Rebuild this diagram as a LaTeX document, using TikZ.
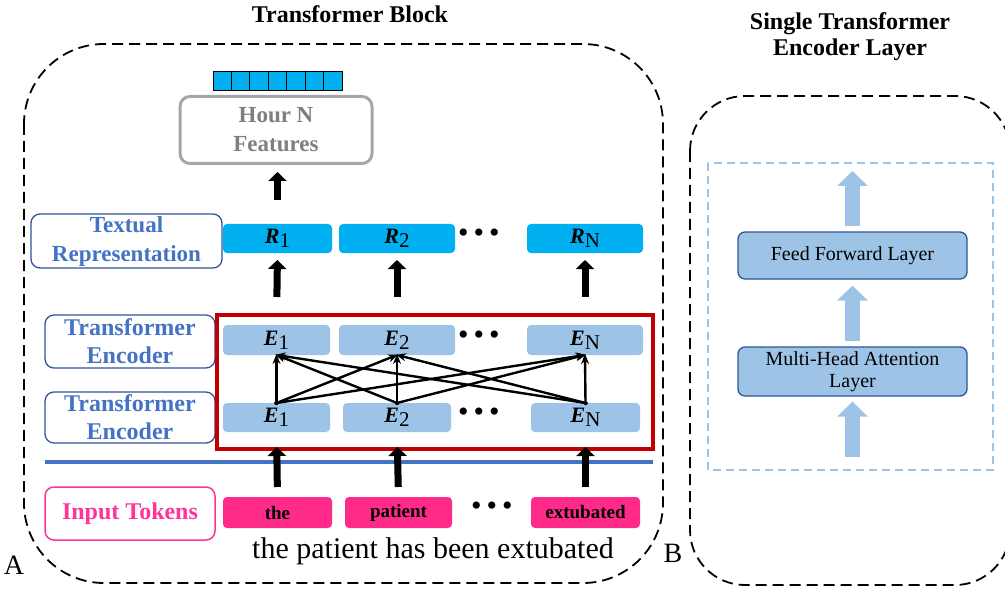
\documentclass[tikz,border=0pt]{standalone}
\usepackage{fontspec}
\setmainfont{Liberation Serif}
\usetikzlibrary{arrows.meta,calc}
\definecolor{cyanR}{HTML}{00B0F0}
\definecolor{lblue}{HTML}{9DC3E6}
\definecolor{dblue}{HTML}{2F5597}
\definecolor{mblue}{HTML}{4472C4}
\definecolor{redC}{HTML}{C00000}
\definecolor{pinkC}{HTML}{FF2A8A}
\definecolor{pinkT}{HTML}{FF3399}
\definecolor{grayB}{HTML}{A6A6A6}
\definecolor{grayT}{HTML}{7F7F7F}
\newcommand\subl[2]{\textbf{\textit{#1}}\raisebox{-0.4ex}{\fontsize{21}{21}\selectfont #2}}
\begin{document}
\begin{tikzpicture}[x=1pt,y=-1pt,
  box/.style={rectangle, rounded corners=4pt, inner sep=0pt, outer sep=0pt, align=center},
  rbox/.style={box, fill=cyanR, minimum height=29pt, font=\fontsize{22}{22}\selectfont},
  ebox/.style={box, fill=lblue, minimum height=30pt, font=\fontsize{22}{22}\selectfont},
  tbox/.style={box, fill=pinkC, minimum height=31pt, font=\fontsize{19}{19}\selectfont\bfseries},
  lbl/.style={rectangle, rounded corners=9pt, draw=dblue, line width=1.3pt, text=mblue,
    font=\fontsize{24}{28}\selectfont\bfseries, align=center, inner sep=0pt, minimum width=170pt},
  bigarrow/.style={line width=7pt, -{Triangle[width=18pt,length=9pt]}},
  barrow/.style={line width=15pt, lblue, -{Triangle[width=30pt,length=15pt]}},
  xarrow/.style={line width=2.4pt, -{Stealth[length=10pt,width=8pt]}},
  dots/.style={font=\fontsize{30}{30}\selectfont, inner sep=0pt},
  frame/.style={line width=1.8pt, dash pattern=on 11pt off 6pt},
  cell/.style={rectangle, draw=black, line width=0.9pt, fill=cyanR, minimum width=18.43pt, minimum height=19pt, inner sep=0pt, outer sep=0pt}
]
\useasboundingbox (0,0) rectangle (1005,591);

% titles
\node[font=\fontsize{24}{26}\selectfont\bfseries] (title) at (350,14) {Transformer Block};
\node[font=\fontsize{24}{26}\selectfont\bfseries, align=center] (titleB) at (850,37) {Single Transformer\\Encoder Layer};

% frames
\draw[frame, rounded corners=80pt] (24,44) rectangle (663,583);
\draw[frame, rounded corners=55pt] (690,96) rectangle (1010,585);
\draw[lblue, line width=2pt, dash pattern=on 8pt off 5pt] (708,163) rectangle (993,470);

\node[font=\fontsize{28}{28}\selectfont] (A) at (14,565) {A};
\node[font=\fontsize{28}{28}\selectfont] (B) at (673,553) {B};

% output vector
\foreach \i in {1,...,7} {
  \node[cell] (c\i) at ({213+18.43*(\i-0.5)},80.5) {};
}
\node[rectangle, rounded corners=10pt, draw=grayB, line width=3pt, text=grayT,
  font=\fontsize{23}{29}\selectfont\bfseries, align=center, minimum width=192pt, minimum height=67pt, inner sep=0pt]
  (hour) at (276,130) {Hour N\\Features};

% left labels
\node[lbl, minimum width=191pt, minimum height=54pt, font=\fontsize{23}{29}\selectfont\bfseries] (textual) at (126.5,241) {Textual\\Representation};
\node[lbl, minimum height=53pt] (enc1) at (130,341.5) {Transformer\\Encoder};
\node[lbl, minimum height=51pt] (enc2) at (130,417.5) {Transformer\\Encoder};
\node[lbl, draw=pinkT, text=pinkT, line width=1.5pt, minimum height=53pt] (input) at (130,513.5) {Input Tokens};

% R row
\node[rbox, minimum width=109pt] (R1) at (277.5,238.5) {\subl{R}{1}};
\node[rbox, minimum width=116pt] (R2) at (397,238.5) {\subl{R}{2}};
\node[rbox, minimum width=116pt] (RN) at (585,238.5) {\subl{R}{N}};
\node[dots] (dR) at (479,236) {\textbullet\,\textbullet\,\textbullet};

% red frame
\node[rectangle, draw=redC, line width=4pt, minimum width=436pt, minimum height=134pt, inner sep=0pt] (red) at (435,382) {};

% E rows
\node[ebox, minimum width=107pt] (Et1) at (276.5,340) {\subl{E}{1}};
\node[ebox, minimum width=116pt] (Et2) at (397,340) {\subl{E}{2}};
\node[ebox, minimum width=116pt] (EtN) at (585,340) {\subl{E}{N}};
\node[dots] (dEt) at (479,338) {\textbullet\,\textbullet\,\textbullet};

\node[ebox, minimum width=107pt, minimum height=29pt] (Eb1) at (276.5,417.5) {\subl{E}{1}};
\node[ebox, minimum width=108pt, minimum height=29pt] (Eb2) at (397,417.5) {\subl{E}{2}};
\node[ebox, minimum width=109pt, minimum height=29pt] (EbN) at (585.5,417.5) {\subl{E}{N}};
\node[dots] (dEb) at (479,415) {\textbullet\,\textbullet\,\textbullet};

% blue separator
\draw[mblue, line width=3.5pt] (45,462) -- (653,462);

% tokens
\node[tbox, minimum width=109pt] (t1) at (277.5,512.5) {the};
\node[tbox, minimum width=107pt] (t2) at (398.5,512.5) {patient};
\node[tbox, minimum width=109pt] (tN) at (585.5,512.5) {extubated};
\node[dots] (dT) at (492,509) {\textbullet\,\textbullet\,\textbullet};

\node[font=\fontsize{30}{30}\selectfont] (sent) at (433,551) {the patient has been extubated};

% black arrows
\draw[bigarrow, shorten <=24pt, shorten >=7pt] (R1.north) -- (R1.north |- hour.south);
\foreach \a/\b in {Et1/R1, Et2/R2, EtN/RN} {
  \draw[bigarrow, shorten <=28pt, shorten >=7pt] (\a.north) -- (\b.south);
}
\foreach \a/\b in {t1/Eb1, t2/Eb2, tN/EbN} {
  \draw[bigarrow, shorten <=10pt, shorten >=15pt] (\a.north) -- (\b.south);
}
% attention arrows
\foreach \a in {Eb1, Eb2, EbN} {
  \foreach \b in {Et1, Et2, EtN} {
    \draw[xarrow, shorten <=-2pt, shorten >=-1pt] (\a.north) -- (\b.south);
  }
}

% right side
\node[rectangle, rounded corners=7pt, draw=dblue, line width=1.3pt, fill=lblue, minimum width=229pt, minimum height=47pt,
  font=\fontsize{20}{22}\selectfont, inner sep=0pt] (FF) at (852.5,255.5) {Feed Forward Layer};
\node[rectangle, rounded corners=7pt, draw=dblue, line width=1.3pt, fill=lblue, minimum width=229pt, minimum height=49pt,
  font=\fontsize{20}{22}\selectfont, align=center, inner sep=0pt] (MHA) at (852.5,371.5) {Multi-Head Attention\\Layer};
\coordinate (Btop) at (852.5,171);
\coordinate (Bbot) at (852.5,457);
\draw[barrow, shorten <=5pt] (FF.north) -- (Btop);
\draw[barrow, shorten <=5pt, shorten >=6pt] (MHA.north) -- (FF.south);
\draw[barrow, shorten >=5pt] (Bbot) -- (MHA.south);
\end{tikzpicture}
\end{document}
